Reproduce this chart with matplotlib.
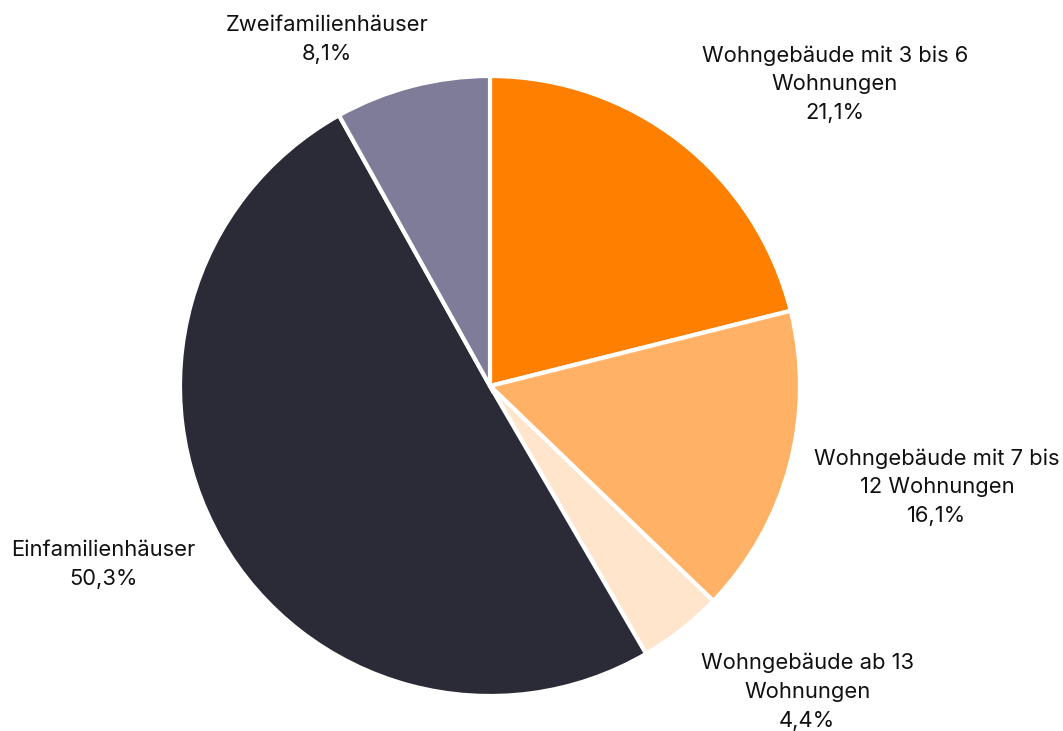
import matplotlib
matplotlib.use("Agg")
import matplotlib.pyplot as plt

categories = [
    "Wohngebäude mit 3 bis 6\nWohnungen",
    "Wohngebäude mit 7 bis\n12 Wohnungen",
    "Wohngebäude ab 13\nWohnungen",
    "Einfamilienhäuser",
    "Zweifamilienhäuser",
]
values = [21.1, 16.1, 4.4, 50.3, 8.1]
value_labels = ["21,1%", "16,1%", "4,4%", "50,3%", "8,1%"]
colors = ["#FF8000", "#FFB266", "#FFE5CC", "#2B2A37", "#7F7C99"]

# label centre positions (in pie-radius units, relative to pie centre)
label_pos = [(1.113, 0.974), (1.442, -0.326), (1.023, -0.987), (-1.248, -0.577), (-0.526, 1.119)]

plt.rcParams["font.family"] = ["Inter", "DejaVu Sans"]

W, H = 1063, 731
fig = plt.figure(figsize=(W / 100, H / 100), dpi=100)
ax = fig.add_axes([0, 0, 1, 1])
cx, cy, R = 490, 386, 310
ax.pie(values, colors=colors, startangle=90, counterclock=False,
       wedgeprops=dict(edgecolor="white", linewidth=3), radius=1, center=(0, 0))
ax.set_xlim(-cx / R, (W - cx) / R)
ax.set_ylim(-(H - cy) / R, cy / R)
ax.set_aspect("equal")
ax.axis("off")

for cat, vl, (lx, ly) in zip(categories, value_labels, label_pos):
    ax.text(lx, ly, f"{cat}\n{vl}", ha="center", va="center", fontsize=15.8,
            color="#111111", linespacing=1.55)

fig.savefig("out.png", dpi=100, facecolor="white")
